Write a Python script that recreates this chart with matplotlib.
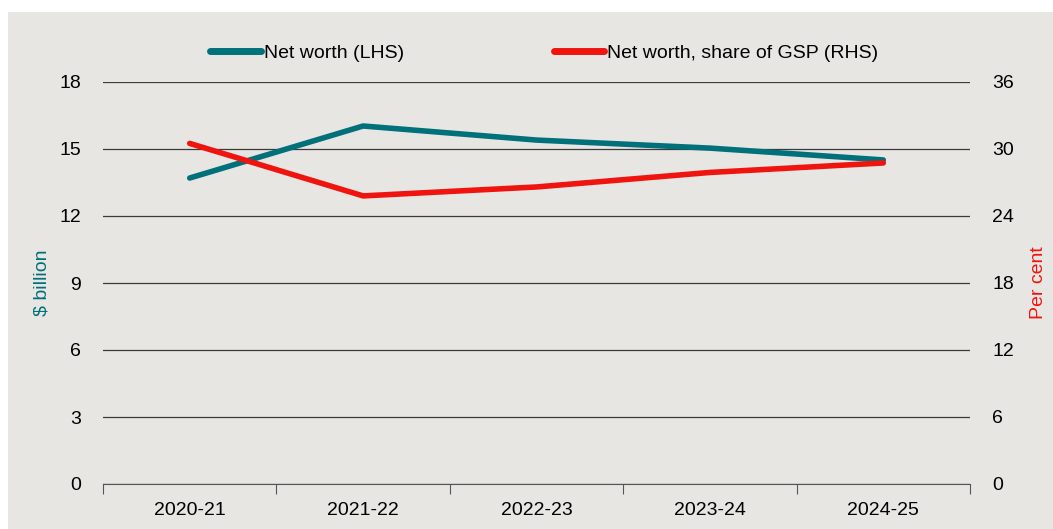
import matplotlib.pyplot as plt
from matplotlib.patches import Rectangle
from matplotlib.lines import Line2D

years = ["2020-21", "2021-22", "2022-23", "2023-24", "2024-25"]
net_worth = [13.7, 16.03, 15.4, 15.04, 14.51]        # $ billion (LHS)
share_gsp = [30.5, 25.8, 26.6, 27.9, 28.75]          # per cent (RHS)
lhs_ticks = [0, 3, 6, 9, 12, 15, 18]
rhs_ticks = [0, 6, 12, 18, 24, 30, 36]

teal = "#00707A"
red = "#F0140F"
bg = "#E8E6E3"
plt.rcParams['font.family'] = ["Liberation Sans", "DejaVu Sans"]

fig = plt.figure(figsize=(10.53, 5.29), dpi=100, facecolor="white")
fig.patches.append(Rectangle((8 / 1053, 0), 1, 1 - 12 / 529, transform=fig.transFigure,
                             facecolor=bg, edgecolor="none", zorder=-10))

ax = fig.add_axes([103 / 1053, 45 / 529, 867 / 1053, 402 / 529])
ax.set_facecolor("none")
ax2 = ax.twinx()

x = list(range(len(years)))
ax.plot(x, net_worth, color=teal, lw=4, solid_capstyle="round", zorder=3)
ax2.plot(x, share_gsp, color=red, lw=4, solid_capstyle="round", zorder=3)

ax.set_xlim(-0.5, len(years) - 0.5)
ax.set_ylim(0, 18)
ax2.set_ylim(0, 36)
ax.set_yticks(lhs_ticks)
ax2.set_yticks(rhs_ticks)
ax.yaxis.grid(True, color="#3a3a3a", lw=0.9)
ax.set_axisbelow(True)

# category boundaries as major ticks, names centred as minor ticks
ax.set_xticks([i - 0.5 for i in range(len(years) + 1)])
ax.set_xticklabels([])
ax.set_xticks(x, minor=True)
ax.set_xticklabels(years, minor=True, fontsize=14)
ax.tick_params(axis="x", which="major", length=7, color="#555555", direction="out")
ax.tick_params(axis="x", which="minor", length=0, pad=13)

for a in (ax, ax2):
    for s in a.spines.values():
        s.set_visible(False)
    a.tick_params(axis="y", length=0, labelsize=14, pad=16)
ax.spines["bottom"].set_visible(True)
ax.spines["bottom"].set_color("#555555")

ax.set_ylabel("$ billion", color=teal, fontsize=14)
ax.yaxis.set_label_coords(-0.06, 0.5)
ax2.set_ylabel("Per cent", color=red, fontsize=14)
ax2.yaxis.set_label_coords(1.069, 0.5)

handles = [Line2D([], [], color=teal, lw=5, solid_capstyle="round"),
           Line2D([], [], color=red, lw=5, solid_capstyle="round")]
fig.legend(handles, ["Net worth (LHS)", "Net worth, share of GSP (RHS)"],
           loc="center left", bbox_to_anchor=(0.183, 0.9), ncol=2, frameon=False,
           fontsize=14, handlelength=2.6, handletextpad=0.15, columnspacing=7.7)

fig.savefig("out.png", dpi=100, facecolor="white")
